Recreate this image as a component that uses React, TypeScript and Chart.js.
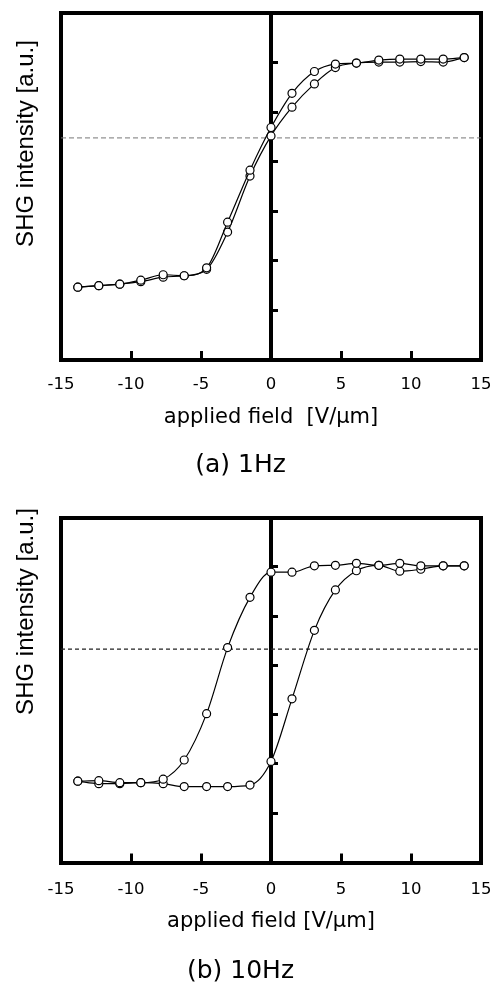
import React, { useEffect, useRef } from 'react';
import { Chart, registerables } from 'chart.js';

Chart.register(...registerables);
Chart.defaults.font.family = "'DejaVu Sans', sans-serif";
Chart.defaults.color = '#000';

// ---------- data ----------
const FIELD = [-13.8, -12.3, -10.8, -9.3, -7.7, -6.2, -4.6, -3.1, -1.5, 0, 1.5, 3.1, 4.6, 6.1, 7.7, 9.2, 10.7, 12.3, 13.8];

// (a) 1 Hz
const SHG_1HZ_DOWN = [1.47, 1.50, 1.53, 1.61, 1.72, 1.70, 1.86, 2.78, 3.83, 4.69, 5.38, 5.82, 5.97, 5.99, 6.05, 6.07, 6.07, 6.07, 6.10];
const SHG_1HZ_UP = [1.47, 1.50, 1.53, 1.58, 1.67, 1.70, 1.83, 2.58, 3.71, 4.52, 5.10, 5.57, 5.90, 5.99, 6.01, 6.01, 6.02, 6.01, 6.10];
const HALF_LEVEL_1HZ = 4.48;

// (b) 10 Hz
const SHG_10HZ_DOWN = [1.65, 1.66, 1.62, 1.62, 1.69, 2.08, 3.02, 4.36, 5.38, 5.89, 5.89, 6.02, 6.03, 6.07, 6.03, 6.07, 6.02, 6.02, 6.02];
const SHG_10HZ_UP = [1.65, 1.60, 1.60, 1.62, 1.60, 1.54, 1.54, 1.54, 1.57, 2.05, 3.32, 4.71, 5.53, 5.92, 6.03, 5.91, 5.95, 6.02, 6.02];
const HALF_LEVEL_10HZ = 4.33;

const X_TICKS = [-15, -10, -5, 0, 5, 10, 15];
const Y_TICKS = [0, 1, 2, 3, 4, 5, 6, 7];
const X_MIN = -15;
const X_MAX = 15;
const Y_MIN = 0;
const Y_MAX = 7;

const Y_TITLE = 'SHG intensity [a.u.]';
const X_TITLE_A = 'applied field  [V/\u03bcm]';
const X_TITLE_B = 'applied field [V/\u03bcm]';
const CAPTION_A = '(a) 1Hz';
const CAPTION_B = '(b) 10Hz';

// ---------- plugin: rotated y title ----------
const yTitlePlugin = {
  id: 'yTitle',
  afterDraw(chart: any, _args: any, opts: any) {
    const { ctx, chartArea } = chart;
    ctx.save();
    ctx.translate(opts.x, chartArea.top + opts.offset);
    ctx.rotate(-Math.PI / 2);
    ctx.font = opts.font;
    ctx.fillStyle = opts.color;
    ctx.textAlign = 'center';
    ctx.textBaseline = 'middle';
    ctx.fillText(opts.text, 0, 0);
    ctx.restore();
  },
};

type Panel = {
  canvasTop: number;
  canvasHeight: number;
  down: number[];
  up: number[];
  half: number;
  xTitle: string;
  caption: string;
  padTop: number;
  xAxisHeight: number;
  tickLineHeight: number;
  xTitlePadBottom: number;
  captionPadBottom: number;
  yTitleOffset: number;
  dashColor: string;
  dashWidth: number;
  dash: number[];
};

const PANELS: Panel[] = [
  {
    canvasTop: 0, canvasHeight: 480,
    down: SHG_1HZ_DOWN, up: SHG_1HZ_UP, half: HALF_LEVEL_1HZ,
    xTitle: X_TITLE_A, caption: CAPTION_A,
    padTop: 13, xAxisHeight: 93.75, tickLineHeight: 59 / 16.5, xTitlePadBottom: 23.15, captionPadBottom: 3.75,
    yTitleOffset: 130.5,
    dashColor: '#777', dashWidth: 1, dash: [5, 3],
  },
  {
    canvasTop: 480, canvasHeight: 504,
    down: SHG_10HZ_DOWN, up: SHG_10HZ_UP, half: HALF_LEVEL_10HZ,
    xTitle: X_TITLE_B, caption: CAPTION_B,
    padTop: 37.5, xAxisHeight: 97.5, tickLineHeight: 64 / 16.5, xTitlePadBottom: 25.4, captionPadBottom: 1.5,
    yTitleOffset: 94,
    dashColor: '#222', dashWidth: 1.3, dash: [4, 3],
  },
];

const frameBorder = { display: true, width: 4, color: '#000' };

function buildConfig(p: Panel): any {
  const pts = (ys: number[]) => FIELD.map((x, i) => ({ x, y: ys[i] }));
  const curve = (ys: number[]) => ({
    data: pts(ys),
    borderColor: '#000',
    borderWidth: 1.2,
    pointRadius: 4,
    pointBackgroundColor: '#fff',
    pointBorderColor: '#000',
    pointBorderWidth: 1.2,
    cubicInterpolationMode: 'monotone',
    fill: false,
  });
  return {
    type: 'line',
    data: {
      datasets: [
        curve(p.down),
        curve(p.up),
        {
          data: [{ x: X_MIN, y: p.half }, { x: X_MAX, y: p.half }],
          borderColor: p.dashColor,
          borderWidth: p.dashWidth,
          borderDash: p.dash,
          pointRadius: 0,
          fill: false,
        },
      ],
    },
    options: {
      responsive: false,
      animation: false,
      devicePixelRatio: 1,
      events: [],
      layout: { padding: { top: p.padTop, right: 16, left: 0, bottom: 0 } },
      plugins: {
        legend: { display: false },
        tooltip: { enabled: false },
        title: {
          display: true,
          position: 'bottom',
          text: p.caption,
          color: '#000',
          font: { size: 25, lineHeight: 0.9, weight: 'normal' },
          padding: { top: 0, bottom: p.captionPadBottom },
        },
        yTitle: {
          text: Y_TITLE,
          x: 26,
          offset: p.yTitleOffset,
          font: "24px 'Liberation Sans', Arial, sans-serif",
          color: '#000',
        },
      },
      scales: {
        x: {
          type: 'linear',
          position: 'bottom',
          min: X_MIN,
          max: X_MAX,
          afterBuildTicks: (s: any) => { s.ticks = X_TICKS.map((v) => ({ value: v })); },
          grid: { display: true, drawOnChartArea: false, drawTicks: true, tickLength: -9, lineWidth: 3, color: '#000' },
          border: frameBorder,
          ticks: { padding: 4, font: { size: 16.5, lineHeight: p.tickLineHeight }, color: '#000', maxRotation: 0, autoSkip: false },
          title: { display: true, text: p.xTitle, font: { size: 21 }, color: '#000', padding: { top: 0, bottom: p.xTitlePadBottom } },
          afterFit: (s: any) => { s.height = p.xAxisHeight; },
        },
        xt: {
          type: 'linear',
          position: 'top',
          min: X_MIN,
          max: X_MAX,
          grid: { display: false, drawTicks: false, lineWidth: 4 },
          border: frameBorder,
          ticks: { display: false },
          afterFit: (s: any) => { s.height = 0; },
        },
        yl: {
          type: 'linear',
          position: 'left',
          min: Y_MIN,
          max: Y_MAX,
          grid: { display: false, drawTicks: false, lineWidth: 4 },
          border: frameBorder,
          ticks: { display: false },
          afterFit: (s: any) => { s.width = 61; },
        },
        yr: {
          type: 'linear',
          position: 'right',
          min: Y_MIN,
          max: Y_MAX,
          grid: { display: false, drawTicks: false, lineWidth: 4 },
          border: frameBorder,
          ticks: { display: false },
          afterFit: (s: any) => { s.width = 0; },
        },
        y: {
          type: 'linear',
          position: { x: 0 },
          min: Y_MIN,
          max: Y_MAX,
          afterBuildTicks: (s: any) => { s.ticks = Y_TICKS.map((v) => ({ value: v })); },
          grid: { display: true, drawOnChartArea: false, drawTicks: true, tickLength: -9, lineWidth: 3, color: '#000' },
          border: frameBorder,
          ticks: { display: false },
        },
      },
    },
    plugins: [yTitlePlugin],
  };
}

function PanelChart({ panel }: { panel: Panel }) {
  const ref = useRef<HTMLCanvasElement>(null);
  useEffect(() => {
    const chart = new Chart(ref.current as HTMLCanvasElement, buildConfig(panel));
    return () => chart.destroy();
  }, [panel]);
  return (
    <canvas
      ref={ref}
      width={497}
      height={panel.canvasHeight}
      style={{ position: 'absolute', left: 0, top: panel.canvasTop, width: 497, height: panel.canvasHeight, display: 'block' }}
    />
  );
}

export default function App() {
  return (
    <div style={{ position: 'absolute', left: 0, top: 0, width: 497, height: 984, background: '#fff' }}>
      {PANELS.map((p, i) => (
        <PanelChart key={i} panel={p} />
      ))}
    </div>
  );
}
